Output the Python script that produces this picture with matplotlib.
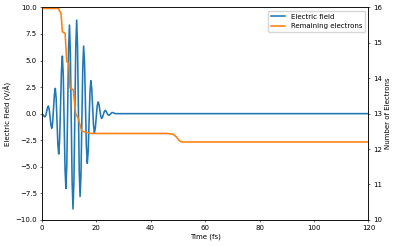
import matplotlib
matplotlib.use("Agg")
import matplotlib.pyplot as plt

# Electric field of the laser pulse
t_field = [0.0, 0.3, 0.6, 0.9, 1.2, 1.51, 1.83, 2.14, 2.45, 2.76, 3.08, 3.39, 3.7,
           4.03, 4.35, 4.68, 5.0, 5.31, 5.63, 5.94, 6.25, 6.59, 6.93, 7.26, 7.6,
           7.93, 8.25, 8.58, 8.9, 9.23, 9.55, 9.88, 10.2, 10.53, 10.85, 11.18, 11.5,
           11.84, 12.18, 12.51, 12.85, 13.16, 13.48, 13.79, 14.1, 14.43, 14.75, 15.08, 15.4,
           15.74, 16.08, 16.41, 16.75, 17.08, 17.4, 17.73, 18.05, 18.38, 18.7, 19.03, 19.35,
           19.69, 20.03, 20.36, 20.7, 21.03, 21.35, 21.68, 22.0, 22.33, 22.65, 22.98, 23.3,
           23.63, 23.95, 24.28, 24.6, 24.93, 25.25, 25.58, 25.9, 26.23, 26.55, 26.88, 27.2,
           30.0, 60.0, 120.0]
e_field = [0.0, -0.04, -0.15, -0.26, -0.3, -0.15, 0.21, 0.57, 0.72, 0.41, -0.33, -1.07, -1.38,
           -0.83, 0.5, 1.83, 2.38, 1.47, -0.71, -2.89, -3.8, -2.45, 0.81, 4.07, 5.42,
           3.59, -0.82, -5.23, -7.05, -4.79, 0.65, 6.09, 8.34, 5.8, -0.32, -6.44, -8.97,
           -6.38, -0.09, 6.2, 8.8, 6.37, 0.5, -5.37, -7.8, -5.73, -0.72, 4.29, 6.36,
           4.75, 0.85, -3.05, -4.67, -3.54, -0.79, 1.96, 3.1, 2.38, 0.65, -1.08, -1.8,
           -1.38, -0.35, 0.68, 1.1, 0.88, 0.33, -0.22, -0.45, -0.35, -0.08, 0.19, 0.3,
           0.24, 0.08, -0.08, -0.15, -0.12, -0.03, 0.06, 0.1, 0.09, 0.05, 0.01, 0.0,
           0.0, 0.0, 0.0]

# Remaining electrons
t_elec = [0.0, 6.1, 7.1, 7.6, 8.6, 9.2, 10.0, 10.4, 11.6, 12.5, 13.4, 14.7, 16.5, 18.0,
          46.0, 48.3, 49.5, 50.5, 51.4, 120.0]
n_elec = [15.97, 15.97, 15.83, 15.31, 15.27, 14.47, 14.42, 13.72, 13.67, 13.0, 12.87, 12.51, 12.47, 12.44,
          12.44, 12.42, 12.34, 12.24, 12.2, 12.2]

plt.rcParams['font.size'] = 5
plt.rcParams['axes.linewidth'] = 0.5
for ax_name in ('xtick', 'ytick'):
    plt.rcParams[ax_name + '.major.size'] = 1.75
    plt.rcParams[ax_name + '.major.width'] = 0.4
    plt.rcParams[ax_name + '.major.pad'] = 1.75

fig = plt.figure(figsize=(3.97, 2.46), dpi=100)
ax = fig.add_axes([0.105, 0.106, 0.823, 0.864])
l1, = ax.plot(t_field, e_field, color='C0', lw=1.15, label='Electric field')
ax.set_xlim(0, 120)
ax.set_ylim(-10, 10)
ax.set_xlabel('Time (fs)', labelpad=2)
ax.set_ylabel('Electric Field (V/Å)', labelpad=2)

ax2 = ax.twinx()
l2, = ax2.plot(t_elec, n_elec, color='C1', lw=1.15, label='Remaining electrons')
ax2.set_ylim(10, 16)
ax2.set_ylabel('Number of Electrons', labelpad=2)

ax2.legend(handles=[l1, l2], loc='upper right', fontsize=5, borderpad=0.4,
           handlelength=2, framealpha=0.8)

fig.savefig('out.png', dpi=100)
